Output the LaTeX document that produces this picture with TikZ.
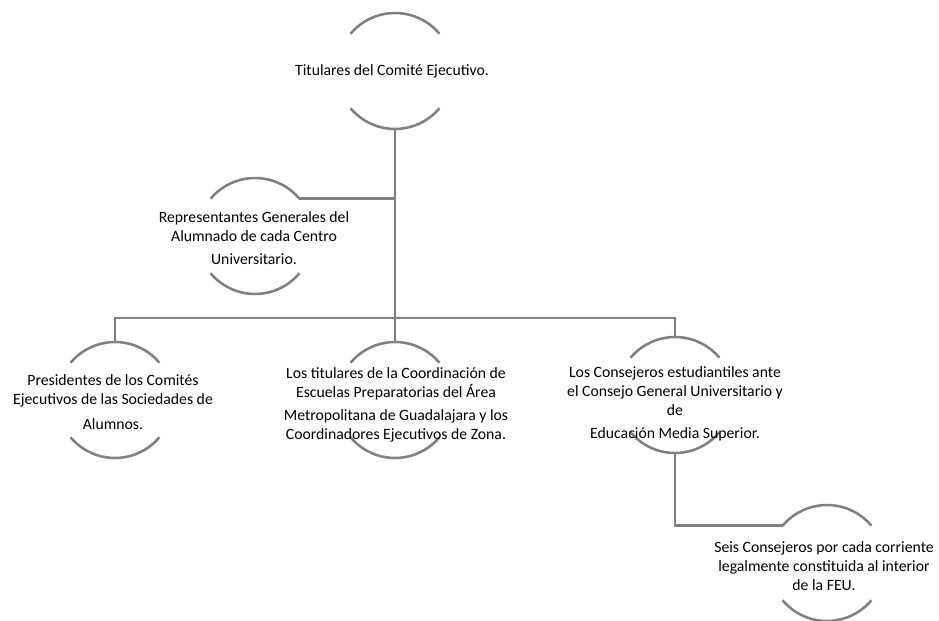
\documentclass[tikz,border=0pt]{standalone}
\usepackage{fontspec}
\setmainfont{Carlito}
\definecolor{linegray}{HTML}{808080}
\begin{document}
\begin{tikzpicture}[x=0.75pt, y=-0.75pt,
   ring/.style={circle, minimum size=87pt, inner sep=0pt, outer sep=0pt},
   rim/.style={draw=linegray, line width=1.9pt},
   link/.style={draw=linegray, line width=2.2pt},
   txt/.style={align=center, inner sep=0pt, font=\fontsize{11.8}{14.2}\selectfont}]

   \useasboundingbox (0,0) rectangle (939,621);

   \foreach \x/\y/\t in {395/71/tit, 255/236/rep, 115/400/pre, 395/400/coo, 675/395/con, 827/563/sei}
     \node [ring] (v\t) at (\x,\y) {};

   \foreach \t in {tit, rep, pre, coo, con, sei}
     \draw [rim] (v\t.40) arc[start angle=40, end angle=140, radius=43.5pt]
                 (v\t.220) arc[start angle=220, end angle=320, radius=43.5pt];

   \coordinate (hub) at (395,318);
   \draw [link] (vtit.south) -- (hub);
   \draw [link] (vrep.40) -| (vtit.south);
   \draw [link] (hub) -| (vpre.north);
   \draw [link] (hub) -- (vcoo.north);
   \draw [link] (hub) -| (vcon.north);
   \draw [link] (vcon.south) |- (vsei.140);

   \node [txt] (lTit) at (392,71) {Titulares del Comité Ejecutivo.};
   \node [txt] (lRep) at (254,238) {Representantes Generales del\\ Alumnado de cada Centro\\[3pt] Universitario.};
   \node [txt] (lPre) at (113,402) {Presidentes de los Comités\\ Ejecutivos de las Sociedades de\\[4pt] Alumnos.};
   \node [txt] (lCoo) at (396,405) {Los titulares de la Coordinación de\\ Escuelas Preparatorias del Área\\[3.5pt] Metropolitana de Guadalajara y los\\ Coordinadores Ejecutivos de Zona.};
   \node [txt] (lCon) at (675,404) {Los Consejeros estudiantiles ante\\ el Consejo General Universitario y\\ de\\[3.5pt] Educación Media Superior.};
   \node [txt] (lSei) at (824,566) {Seis Consejeros por cada corriente\\ legalmente constituida al interior\\ de la FEU.};

\end{tikzpicture}
\end{document}
